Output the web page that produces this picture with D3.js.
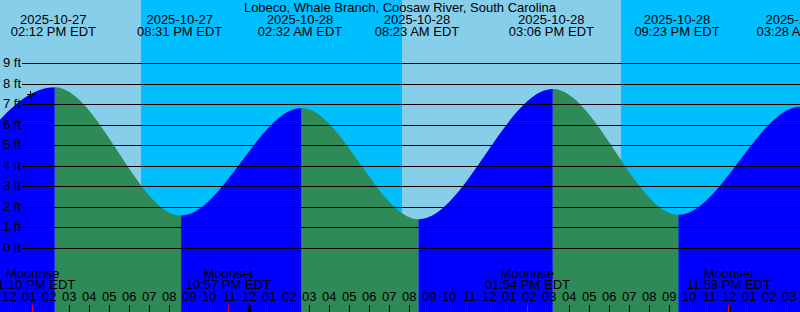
<!DOCTYPE html>
<html><head><meta charset="utf-8">
<script src="https://cdn.jsdelivr.net/npm/d3@7"></script>
<style>
body{margin:0;overflow:hidden;background:#fff}
svg{display:block}
text{font-family:"Liberation Sans",Arial,sans-serif;font-size:13px;fill:#000}
</style>
</head><body>
<svg id="chart" width="800" height="312"></svg>
<script>
// ---- data (times are EDT wall-clock) ----
const title = "Lobeco, Whale Branch, Coosaw River, South Carolina";
const tideTimes   = ["2025-10-27T08:00","2025-10-27T14:12","2025-10-27T20:31","2025-10-28T02:32","2025-10-28T08:23","2025-10-28T15:06","2025-10-28T21:23","2025-10-29T03:28","2025-10-29T09:45"];
const tideHeights = [1.5, 7.85, 1.60, 6.83, 1.42, 7.76, 1.64, 6.90, 1.4];
const sunTimes = ["2025-10-27T18:35","2025-10-28T07:38","2025-10-28T18:35"];
const sunKinds = ["set","rise","set"];
const moonTimes = ["2025-10-27T13:10","2025-10-27T22:57","2025-10-28T13:54","2025-10-28T23:58"];
const moonKinds = ["Moonrise","Moonset","Moonrise","Moonset"];
const feet = [0,1,2,3,4,5,6,7,8,9];
const markTime = "2025-10-27T13:03";
const markHeight = 7.48;
const timeDomain = ["2025-10-27T11:32","2025-10-29T03:32"];

const colors = {day:"#87CEEB", night:"#00BFFF", rising:"#0000FF", falling:"#2E8B57", red:"#FF0000"};

// ---- setup ----
const W = 800, H = 312;
const parse = d3.utcParse("%Y-%m-%dT%H:%M");
const fmtDate = d3.utcFormat("%Y-%m-%d");
const fmtTime = d3.utcFormat("%I:%M %p EDT");
const fmtHour = d3.utcFormat("%I");
const svg = d3.select("#chart");

const x = d3.scaleUtc().domain(timeDomain.map(parse)).range([0, W]);
const y = d3.scaleLinear().domain([0, 9]).range([248.5, 63.5]);
const crisp = v => Math.round(v - 0.5) + 0.5;

// ---- day / night background ----
const sunDates = sunTimes.map(parse);
const bounds = [x.domain()[0], ...sunDates, x.domain()[1]];
const firstIsDay = sunKinds[0] === "set";
const bands = d3.pairs(bounds).map(([a, b], i) => ({a, b, day: (i % 2 === 0) === firstIsDay}));
svg.append("g").selectAll("rect").data(bands).join("rect")
  .attr("x", d => Math.round(x(d.a))).attr("y", 0)
  .attr("width", d => Math.round(x(d.b)) - Math.round(x(d.a))).attr("height", H)
  .attr("fill", d => d.day ? colors.day : colors.night);

// ---- tide area ----
const tide = tideTimes.map((t, i) => ({t: parse(t), h: tideHeights[i]}));
const area = d3.area().x(d => x(d.t)).y0(H).y1(d => y(d.h)).curve(d3.curveMonotoneX);
const tg = svg.append("g").attr("transform", "translate(1.5,0)");
const defs = svg.append("defs");
d3.pairs(tide).forEach(([a, b], i) => {
  const id = "clip" + i;
  defs.append("clipPath").attr("id", id).append("rect")
    .attr("x", x(a.t)).attr("y", 0).attr("width", x(b.t) - x(a.t)).attr("height", H);
  tg.append("path").datum(tide).attr("d", area)
    .attr("clip-path", `url(#${id})`)
    .attr("fill", b.h > a.h ? colors.rising : colors.falling);
});

// ---- gridlines & labels ----
const grid = svg.append("g");
grid.selectAll("line").data(feet).join("line")
  .attr("x1", 22).attr("x2", W)
  .attr("y1", d => crisp(y(d))).attr("y2", d => crisp(y(d)))
  .attr("stroke", "#000").attr("stroke-width", 1);
grid.selectAll("text").data(feet).join("text")
  .attr("x", 21).attr("y", d => crisp(y(d)) + 3.5)
  .attr("text-anchor", "end").text(d => d + " ft");

// ---- mark ----
const mx = x(parse(markTime)) + 0.5, my = y(markHeight);
svg.append("path")
  .attr("d", `M${Math.round(mx) - 4},${crisp(my)}h8M${crisp(mx)},${Math.round(my) - 4}v8`)
  .attr("stroke", "#000").attr("stroke-width", 1);

// ---- header ----
svg.append("text").attr("x", W / 2).attr("y", 12).attr("text-anchor", "middle").text(title);
const hdr = svg.append("g").selectAll("g").data(tide).join("g")
  .attr("transform", d => `translate(${x(d.t)},0)`);
hdr.append("text").attr("y", 24).attr("text-anchor", "middle").text(d => fmtDate(d.t));
hdr.append("text").attr("y", 36).attr("text-anchor", "middle").text(d => fmtTime(d.t));

// ---- bottom time axis ----
const hours = x.ticks(d3.utcHour.every(1));
const ax = svg.append("g");
ax.selectAll("line").data(hours).join("line")
  .attr("x1", d => crisp(x(d))).attr("x2", d => crisp(x(d)))
  .attr("y1", 305).attr("y2", H)
  .attr("stroke", "#000")
  .attr("stroke-width", d => d.getUTCHours() === 0 ? 3 : 1);
ax.selectAll("text").data(hours).join("text")
  .attr("x", d => x(d)).attr("y", 301)
  .attr("text-anchor", "middle").text(d => fmtHour(d));

// ---- moon events ----
const moon = moonTimes.map((t, i) => ({t: parse(t), kind: moonKinds[i]}));
const mg = svg.append("g").selectAll("g").data(moon).join("g")
  .attr("transform", d => `translate(${x(d.t)},0)`);
mg.append("text").attr("y", 278).attr("text-anchor", "middle").text(d => d.kind);
mg.append("text").attr("y", 289).attr("text-anchor", "middle").text(d => fmtTime(d.t));
svg.append("g").selectAll("line").data(moon).join("line")
  .attr("x1", d => crisp(x(d.t))).attr("x2", d => crisp(x(d.t)))
  .attr("y1", 305).attr("y2", H)
  .attr("stroke", colors.red).attr("stroke-width", 1);
</script>
</body></html>
